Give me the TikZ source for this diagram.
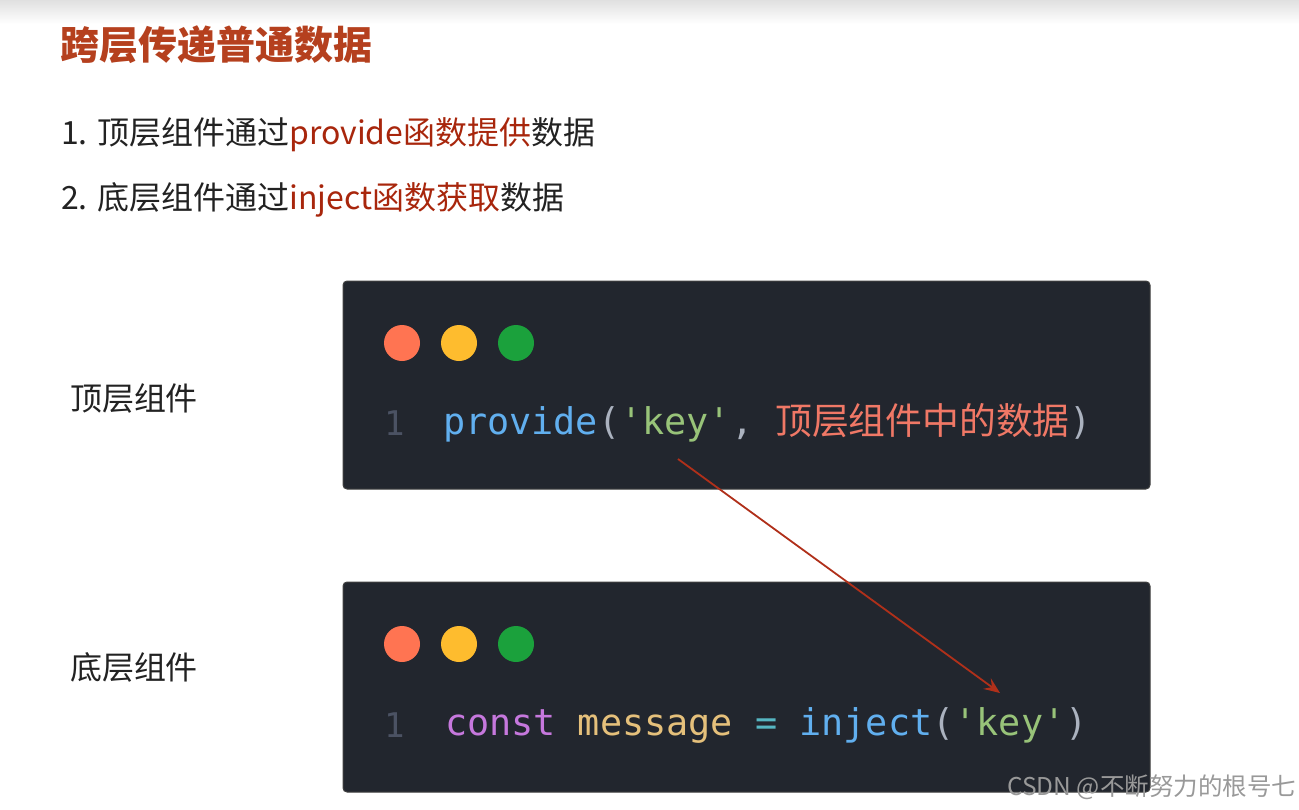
\documentclass[tikz,border=0pt]{standalone}
\usepackage{fontspec}
\setmainfont{Noto Sans CJK SC}
\newfontfamily\codefont{DejaVu Sans Mono}
\newfontfamily\cjkcode{Noto Sans CJK SC}
\usetikzlibrary{positioning,arrows.meta}
\definecolor{titlered}{HTML}{B5401E}
\definecolor{hintred}{HTML}{A8260C}
\definecolor{bodytext}{HTML}{222222}
\definecolor{codebg}{HTML}{22262E}
\definecolor{dotred}{HTML}{FF7452}
\definecolor{dotyellow}{HTML}{FEBC2E}
\definecolor{dotgreen}{HTML}{1BA13C}
\definecolor{linenum}{HTML}{4B5263}
\definecolor{fnblue}{HTML}{61AFEF}
\definecolor{strgreen}{HTML}{98C379}
\definecolor{punct}{HTML}{ABB2BF}
\definecolor{cnsalmon}{HTML}{F07866}
\definecolor{kwviolet}{HTML}{C678DD}
\definecolor{varyellow}{HTML}{E5C07B}
\definecolor{opcyan}{HTML}{56B6C2}
\definecolor{arrowred}{HTML}{B0301A}

\begin{document}
\begin{tikzpicture}[
    x=1pt, y=-1pt,
    every node/.style={inner sep=0pt, outer sep=0pt},
    title/.style={font=\fontsize{39}{44}\selectfont\bfseries, text=titlered, anchor=west},
    bullet/.style={font=\fontsize{32}{38}\selectfont, text=bodytext, anchor=west},
    sidelabel/.style={font=\fontsize{32}{38}\selectfont, text=bodytext, anchor=west},
    codebox/.style={draw=black!75, fill=codebg, rounded corners=4pt, line width=1pt},
    windot/.style={circle, fill=#1, minimum size=36pt},
    codeline/.style={font=\codefont\fontsize{36.8}{40}\selectfont, anchor=west},
    lineno/.style={font=\codefont\fontsize{34}{40}\selectfont, text=linenum, anchor=west},
    arrow/.style={-{Stealth[length=16pt, width=13pt, inset=6pt]}, line width=1.8pt, color=#1},
    watermark/.style={font=\fontsize{24.5}{28}\selectfont, text=black!40, anchor=east},
]
\useasboundingbox (0,0) rectangle (1299,809);

% Header band
\shade[top color=black!12, bottom color=white] (0,0) rectangle (1299,24);

% Title and bullet lines
\node[title] (heading) at (60,45) {跨层传递普通数据};
\node[bullet] (provideline) at (61,135) {1. 顶层组件通过\textcolor{hintred}{provide函数提供}数据};
\node[bullet] (injectline) at (61,200) {2. 底层组件通过\textcolor{hintred}{inject函数获取}数据};

% Top component
\node[sidelabel] (toplabel) at (70,398) {顶层组件};
\draw[codebox] (343,281) rectangle (1150,489);
\node[windot=dotred] (topred) at (402,343) {};
\node[windot=dotyellow, right=21pt of topred] (topyellow) {};
\node[windot=dotgreen, right=21pt of topyellow] (topgreen) {};
\node[lineno] (topnum) at (384,423) {1};
\node[codeline] (topcode) at (443,423) {\textcolor{fnblue}{provide}\textcolor{punct}{(}\textcolor{strgreen}{'key'}\textcolor{punct}{, }\textcolor{cnsalmon}{\cjkcode 顶层组件中的数据}\textcolor{punct}{)}};

% Bottom component
\node[sidelabel] (botlabel) at (70,667) {底层组件};
\draw[codebox] (343,582) rectangle (1150,792);
\node[windot=dotred] (botred) at (402,644) {};
\node[windot=dotyellow, right=21pt of botred] (botyellow) {};
\node[windot=dotgreen, right=21pt of botyellow] (botgreen) {};
\node[lineno] (botnum) at (384,725) {1};
\node[codeline] (botcode) at (445,725) {\textcolor{kwviolet}{const} \textcolor{varyellow}{message} \textcolor{opcyan}{=} \textcolor{fnblue}{inject}\textcolor{punct}{(}\textcolor{strgreen}{'key'}\textcolor{punct}{)}};

% Key link
\coordinate (keysrc) at (678,459);
\coordinate (keydst) at (1000,693);
\draw[arrow=arrowred] (keysrc) -- (keydst);

% Watermark
\node[watermark] (credit) at (1296,787) {CSDN @不断努力的根号七};

\end{tikzpicture}
\end{document}
